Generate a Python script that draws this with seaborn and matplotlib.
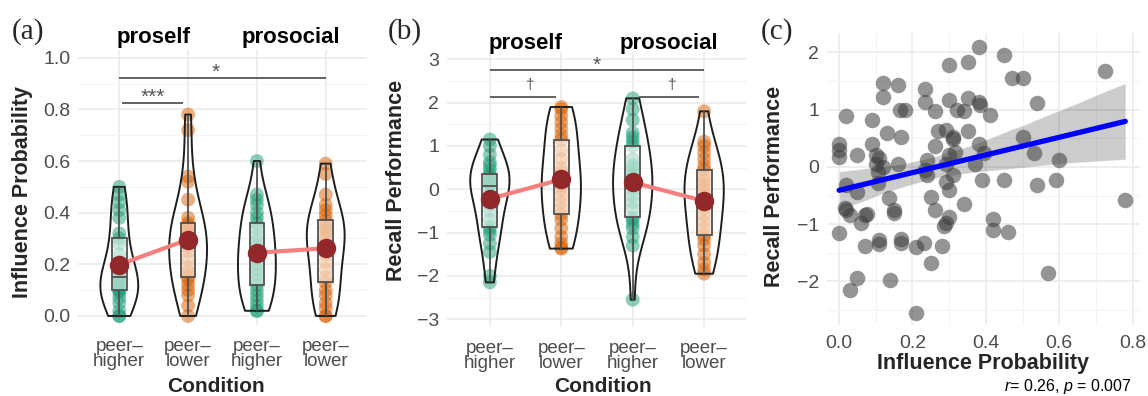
import numpy as np
import pandas as pd
import matplotlib
matplotlib.use("Agg")
import matplotlib.pyplot as plt
import matplotlib.transforms as mtransforms
import seaborn as sns

# ---------------- data ----------------
conditions = ["proself peer-higher", "proself peer-lower", "prosocial peer-higher", "prosocial peer-lower"]
cond_groups = ["proself", "proself", "prosocial", "prosocial"]
tick_labels = ["peer–\nhigher", "peer–\nlower", "peer–\nhigher", "peer–\nlower"]
facet_labels = ["proself", "prosocial"]

# Panel (a): influence probability per condition
infl_self_higher = [0.0, 0.0, 0.02, 0.05, 0.07, 0.09, 0.10, 0.10, 0.11, 0.12, 0.13, 0.14, 0.15,
                    0.16, 0.18, 0.21, 0.24, 0.28, 0.30, 0.32, 0.38, 0.41, 0.44, 0.47, 0.50]
infl_self_lower = [0.0, 0.04, 0.08, 0.10, 0.12, 0.14, 0.15, 0.17, 0.19, 0.22, 0.25, 0.27, 0.28,
                   0.30, 0.32, 0.33, 0.34, 0.35, 0.36, 0.38, 0.45, 0.52, 0.54, 0.72, 0.78]
infl_soc_higher = [0.02, 0.02, 0.04, 0.06, 0.08, 0.10, 0.12, 0.14, 0.16, 0.18, 0.20, 0.22, 0.23,
                   0.25, 0.27, 0.29, 0.31, 0.34, 0.36, 0.38, 0.40, 0.43, 0.45, 0.47, 0.60]
infl_soc_lower = [0.0, 0.0, 0.03, 0.05, 0.08, 0.10, 0.13, 0.15, 0.18, 0.21, 0.24, 0.26, 0.28,
                  0.30, 0.31, 0.33, 0.34, 0.35, 0.37, 0.39, 0.41, 0.43, 0.47, 0.55, 0.59]

# Panel (b): recall performance per condition
recall_self_higher = [-2.15, -2.0, -1.45, -1.25, -1.05, -0.95, -0.87, -0.7, -0.5, -0.35, -0.2, -0.05, 0.08,
                      0.12, 0.16, 0.2, 0.24, 0.3, 0.35, 0.45, 0.55, 0.62, 0.8, 1.0, 1.15]
recall_self_lower = [-1.37, -1.35, -1.25, -1.1, -0.9, -0.7, -0.58, -0.45, -0.3, -0.15, 0.0, 0.1, 0.2,
                     0.3, 0.4, 0.5, 0.7, 0.9, 1.14, 1.25, 1.4, 1.55, 1.7, 1.85, 1.9]
recall_soc_higher = [-2.55, -1.3, -1.1, -0.9, -0.8, -0.7, -0.65, -0.45, -0.3, -0.15, 0.0, 0.1, 0.2,
                     0.3, 0.4, 0.5, 0.55, 0.7, 1.0, 1.1, 1.2, 1.3, 1.6, 1.85, 2.1]
recall_soc_lower = [-1.95, -1.85, -1.7, -1.5, -1.3, -1.15, -1.06, -0.9, -0.75, -0.6, -0.45, -0.3, -0.2,
                    -0.1, 0.0, 0.1, 0.2, 0.3, 0.45, 0.55, 0.7, 0.85, 1.0, 1.1, 1.8]

# Panel (c): participant-level influence probability vs recall performance
scatter_influence = [0.00, 0.00, 0.00, 0.00, 0.02, 0.05, 0.02, 0.05, 0.015, 0.03, 0.02, 0.06, 0.07, 0.07,
                     0.075, 0.05, 0.03, 0.09, 0.09, 0.10, 0.10, 0.105, 0.105, 0.11, 0.12, 0.12, 0.13, 0.12,
                     0.11, 0.11, 0.135, 0.14, 0.16, 0.165, 0.18, 0.17, 0.16, 0.15, 0.15, 0.17, 0.17, 0.21,
                     0.23, 0.21, 0.235, 0.235, 0.26, 0.24, 0.235, 0.24, 0.26, 0.25, 0.26, 0.25, 0.27, 0.29,
                     0.28, 0.285, 0.29, 0.30, 0.30, 0.30, 0.29, 0.29, 0.30, 0.30, 0.31, 0.31, 0.32, 0.31,
                     0.315, 0.35, 0.35, 0.34, 0.35, 0.34, 0.38, 0.38, 0.385, 0.38, 0.37, 0.395, 0.39, 0.41,
                     0.42, 0.42, 0.45, 0.45, 0.46, 0.47, 0.50, 0.50, 0.53, 0.54, 0.54, 0.57, 0.59, 0.60,
                     0.725, 0.78]
scatter_recall = [0.40, 0.30, 0.18, -1.16, 0.89, 0.21, -0.31, -0.43, -0.72, -0.84, -0.75, -0.98, -1.38, -0.84,
                  -0.82, -1.94, -2.15, 0.82, 0.41, 0.21, 0.06, -0.08, -0.28, 0.15, 1.47, 1.23, 0.59, 0.00,
                  -1.28, -1.35, -0.55, -1.97, 1.43, 1.00, 1.00, 0.52, 0.06, -0.75, -0.81, -1.26, -1.33, -1.40,
                  -1.33, -2.55, 1.37, 1.14, 0.97, 0.12, -0.05, -0.14, 0.36, -0.52, -0.75, -1.68, 0.62, 0.65,
                  -1.38, -1.03, -0.98, 1.78, 1.17, 0.21, 0.06, -0.26, -0.40, -0.87, 0.53, 0.48, 1.00, -0.14,
                  0.27, 1.84, 1.20, 0.97, 0.62, -0.65, 2.10, 1.14, 1.08, 0.41, 0.06, 0.24, -0.23, 0.91,
                  -0.90, -1.10, 1.96, -0.23, -1.13, 1.55, 1.55, 0.53, 0.24, 1.11, -0.31, -1.86, -0.23, 0.12,
                  1.67, -0.58]
corr_label = r"$\it{r}$= 0.26, $\it{p}$ = 0.007"

# ---------------- style ----------------
sns.set_style("white")
plt.rcParams["font.family"] = ["Liberation Sans", "DejaVu Sans"]
plt.rcParams["mathtext.fontset"] = "custom"
plt.rcParams["mathtext.rm"] = "Liberation Sans"
plt.rcParams["mathtext.it"] = "Liberation Sans:italic"

GREEN = "#1b9e77"
ORANGE = "#d95f02"
MEAN_RED = "#93282B"
LINE_RED = "#F47F7F"
TICK_GRAY = "#4d4d4d"
W, H = 1148, 396
TITLE_SIZE = 15.5


def long_df(lists):
    rows = []
    for c, g, vals in zip(conditions, cond_groups, lists):
        for v in vals:
            rows.append({"cond": c, "group": g, "val": v})
    return pd.DataFrame(rows)


def new_children(ax, before):
    return [a for a in ax.get_children() if a not in before]


def style_axes(ax):
    for s in ax.spines.values():
        s.set_visible(False)
    ax.set_axisbelow(True)
    ax.grid(which="major", color="#e9e9e9", lw=1.1)
    ax.grid(which="minor", color="#f3f3f3", lw=0.7)
    ax.tick_params(which="major", length=3.5, width=1.1, color="#333333", labelsize=14,
                   labelcolor=TICK_GRAY, pad=2)
    ax.tick_params(which="minor", length=0)
    ax.set_xlabel("")
    ax.set_ylabel("")


def violin_panel(ax, df, ylim, yticks, yminor, yfmt):
    pal = [GREEN, ORANGE, GREEN, ORANGE]
    b = list(ax.get_children())
    sns.stripplot(data=df, x="cond", y="val", hue="cond", order=conditions, hue_order=conditions,
                  palette=pal, jitter=False, size=10, alpha=0.5, linewidth=0, legend=False, ax=ax)
    for a in new_children(ax, b):
        a.set_zorder(2)
    b = list(ax.get_children())
    sns.violinplot(data=df, x="cond", y="val", order=conditions, fill=False, color="#1e1e1e",
                   inner=None, cut=0, width=0.55, linewidth=1.4, density_norm="width",
                   bw_method="silverman", ax=ax)
    for a in new_children(ax, b):
        a.set_zorder(3)
    b = list(ax.get_children())
    sns.boxplot(data=df, x="cond", y="val", order=conditions, width=0.21, whis=(0, 100),
                showcaps=False, showfliers=False, fill=True, color="white", saturation=1,
                linecolor="#505050", linewidth=1.3, ax=ax)
    for a in new_children(ax, b):
        a.set_zorder(4)
        if isinstance(a, matplotlib.patches.PathPatch):
            a.set_facecolor((1, 1, 1, 0.55))
    b = list(ax.get_children())
    sns.pointplot(data=df, x="cond", y="val", hue="group", order=conditions,
                  palette=[LINE_RED, LINE_RED], errorbar=None, markersize=0, linewidth=3.0,
                  dodge=False, legend=False, ax=ax)
    for a in new_children(ax, b):
        a.set_zorder(5)
    b = list(ax.get_children())
    sns.pointplot(data=df, x="cond", y="val", order=conditions, color=MEAN_RED, errorbar=None,
                  linestyle="none", markersize=14, markeredgewidth=0, ax=ax)
    for a in new_children(ax, b):
        a.set_zorder(6)

    ax.set_xlim(-0.6, 3.6)
    ax.set_ylim(*ylim)
    ax.set_yticks(yticks)
    ax.set_yticklabels([yfmt(t) for t in yticks])
    ax.set_yticks(yminor, minor=True)
    ax.set_xticks(range(4))
    ax.set_xticklabels(tick_labels, linespacing=0.82)
    style_axes(ax)
    ax.tick_params(axis="x", pad=6, labelsize=13.5)


def bracket(ax, x0, x1, y, label, tx, ty, size):
    ax.plot([x0, x1], [y, y], color="#555555", lw=1.3, zorder=7, solid_capstyle="butt")
    ax.text(tx, ty, label, ha="center", va="center", fontsize=size, color="#555555", zorder=7)


fig = plt.figure(figsize=(W / 100, H / 100), dpi=100)


def add_ax(l, t, r, b):
    return fig.add_axes([l / W, 1 - b / H, (r - l) / W, (b - t) / H])


def ftext(xpx, ypx, s, **kw):
    return fig.text(xpx / W, 1 - ypx / H, s, **kw)


# ---------- Panel (a) ----------
ax1 = add_ax(78, 50, 367, 325)
dfa = long_df([infl_self_higher, infl_self_lower, infl_soc_higher, infl_soc_lower])
violin_panel(ax1, dfa, (-0.035, 1.03), [0, 0.2, 0.4, 0.6, 0.8, 1.0], [0.1, 0.3, 0.5, 0.7, 0.9],
             lambda t: f"{t:.1f}")
bracket(ax1, 0.04, 0.93, 0.823, "***", 0.49, 0.845, 15)
bracket(ax1, 0.0, 3.0, 0.92, "*", 1.4, 0.942, 15)
ftext(23, 192, "Influence Probability", rotation=90, ha="center", va="center",
      fontsize=TITLE_SIZE, fontweight="bold")
ftext(216, 386, "Condition", ha="center", va="center", fontsize=15, fontweight="bold")

# ---------- Panel (b) ----------
ax2 = add_ax(447, 52, 747, 327)
dfb = long_df([recall_self_higher, recall_self_lower, recall_soc_higher, recall_soc_lower])
violin_panel(ax2, dfb, (-3.18, 3.17), [-3, -2, -1, 0, 1, 2, 3], [-2.5, -1.5, -0.5, 0.5, 1.5, 2.5],
             lambda t: f"{t:d}".replace("-", "\u2212"))
bracket(ax2, 0.0, 3.0, 2.75, "*", 1.5, 2.86, 15)
bracket(ax2, 0.0, 0.93, 2.14, "†", 0.56, 2.4, 11)
bracket(ax2, 2.09, 2.93, 2.14, "†", 2.55, 2.4, 11)
ftext(397, 180, "Recall Performance", rotation=90, ha="center", va="center",
      fontsize=TITLE_SIZE, fontweight="bold")
ftext(603, 386, "Condition", ha="center", va="center", fontsize=15, fontweight="bold")

# facet strip labels
for ax, ypx in [(ax1, 37), (ax2, 43)]:
    tr = mtransforms.blended_transform_factory(ax.transData, fig.transFigure)
    for x, lab in zip([0.5, 2.5], facet_labels):
        ax.text(x, 1 - ypx / H, lab, transform=tr, ha="center", va="center",
                fontsize=16, fontweight="bold", color="black")

# ---------- Panel (c) ----------
ax3 = add_ax(827, 33, 1140, 325)
sns.regplot(x=scatter_influence, y=scatter_recall, ax=ax3, scatter=False, color="black",
            line_kws=dict(alpha=0))
for coll in ax3.collections:
    coll.set_alpha(0.2)
sns.regplot(x=scatter_influence, y=scatter_recall, ax=ax3, ci=None,
            scatter_kws=dict(color="#3c3c3c", alpha=0.55, s=125, linewidths=0, zorder=3),
            line_kws=dict(color="#0000ff", lw=3.8, zorder=4))
ax3.set_xlim(-0.033, 0.82)
ax3.set_ylim(-2.76, 2.34)
ax3.set_xticks([0, 0.2, 0.4, 0.6, 0.8])
ax3.set_xticklabels([f"{t:.1f}" for t in [0, 0.2, 0.4, 0.6, 0.8]])
ax3.set_xticks([0.1, 0.3, 0.5, 0.7], minor=True)
ax3.set_yticks([-2, -1, 0, 1, 2])
ax3.set_yticklabels([f"{t:d}".replace("-", "\u2212") for t in [-2, -1, 0, 1, 2]])
ax3.set_yticks([-2.5, -1.5, -0.5, 0.5, 1.5], minor=True)
style_axes(ax3)
ax3.tick_params(axis="x", pad=4)
ftext(775, 186, "Recall Performance", rotation=90, ha="center", va="center",
      fontsize=TITLE_SIZE, fontweight="bold")
ftext(983, 364, "Influence Probability", ha="center", va="center",
      fontsize=TITLE_SIZE, fontweight="bold")
ftext(1132, 386, corr_label, ha="right", va="center", fontsize=11.5, color="black")

# panel letters
for lab, xpx in [("(a)", 28), ("(b)", 405), ("(c)", 777)]:
    ftext(xpx, 32, lab, ha="center", va="center", fontsize=21,
          family=["Liberation Serif", "DejaVu Serif"])

fig.savefig("out.png", dpi=100)
